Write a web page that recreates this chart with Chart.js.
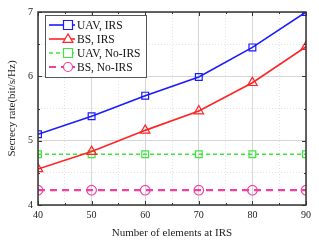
<!DOCTYPE html>
<html>
<head>
<meta charset="utf-8">
<script src="https://cdn.jsdelivr.net/npm/chart.js@4/dist/chart.umd.min.js"></script>
<style>
  html, body { margin: 0; padding: 0; background: #fff; }
  #wrap { width: 319px; height: 245px; }
</style>
</head>
<body>
<div id="wrap"><canvas id="c" width="319" height="245"></canvas></div>
<script>
// ---------- Data ----------
const elements = [40, 50, 60, 70, 80, 90];
const uavIrs = [5.1, 5.38, 5.7, 5.99, 6.45, 7.0];
const bsIrs = [4.56, 4.83, 5.16, 5.46, 5.9, 6.46];
const uavNoIrs = [4.79, 4.79, 4.79, 4.79, 4.79, 4.79];
const bsNoIrs = [4.23, 4.23, 4.23, 4.23, 4.23, 4.23];

const FONT = "'Liberation Serif', 'DejaVu Serif', serif";

function pts(ys) {
  return elements.map((x, i) => ({ x: x, y: ys[i] }));
}

// ---------- Plugins ----------
// frame box + inward tick marks
const framePlugin = {
  id: "frame",
  afterDraw(chart) {
    const { ctx, chartArea: a, scales } = chart;
    ctx.save();
    ctx.strokeStyle = "#333";
    ctx.lineWidth = 1;
    scales.x.ticks.forEach(t => {
      const px = Math.round(scales.x.getPixelForValue(t.value)) + 0.5;
      const len = t.value % 10 === 0 ? 4 : 2;
      ctx.beginPath();
      ctx.moveTo(px, a.bottom); ctx.lineTo(px, a.bottom - len);
      ctx.moveTo(px, a.top); ctx.lineTo(px, a.top + len);
      ctx.stroke();
    });
    scales.y.ticks.forEach(t => {
      const py = Math.round(scales.y.getPixelForValue(t.value)) + 0.5;
      const len = Number.isInteger(t.value) ? 4 : 2;
      ctx.beginPath();
      ctx.moveTo(a.left, py); ctx.lineTo(a.left + len, py);
      ctx.moveTo(a.right, py); ctx.lineTo(a.right - len, py);
      ctx.stroke();
    });
    ctx.lineWidth = 1.5;
    ctx.strokeRect(a.left, a.top, a.right - a.left, a.bottom - a.top);
    ctx.restore();
  }
};

function drawMarker(ctx, style, x, y, r) {
  ctx.beginPath();
  if (style === "rect") {
    ctx.rect(x - r, y - r, 2 * r, 2 * r);
  } else if (style === "triangle") {
    ctx.moveTo(x, y - r * 1.15);
    ctx.lineTo(x + r * 1.1, y + r * 0.75);
    ctx.lineTo(x - r * 1.1, y + r * 0.75);
    ctx.closePath();
  } else {
    ctx.arc(x, y, r, 0, Math.PI * 2);
  }
  ctx.fillStyle = "#fff";
  ctx.fill();
  ctx.stroke();
}

// legend inside the plot, top-left, with a box
const legendPlugin = {
  id: "boxLegend",
  afterDraw(chart) {
    const { ctx, chartArea: a } = chart;
    const x0 = a.left + 7, y0 = a.top + 3;
    const w = 101, rowH = 14;
    const sets = chart.data.datasets;
    ctx.save();
    ctx.fillStyle = "#fff";
    ctx.fillRect(x0, y0, w, rowH * sets.length + 6);
    ctx.strokeStyle = "#555";
    ctx.lineWidth = 1;
    ctx.strokeRect(x0 + 0.5, y0 + 0.5, w, rowH * sets.length + 6);
    sets.forEach((ds, i) => {
      const cy = y0 + 10 + i * rowH;
      ctx.strokeStyle = ds.borderColor;
      ctx.lineWidth = ds.borderWidth;
      ctx.setLineDash(ds.borderDash || []);
      ctx.beginPath();
      ctx.moveTo(x0 + 4, cy);
      ctx.lineTo(x0 + 30, cy);
      ctx.stroke();
      ctx.setLineDash([]);
      ctx.lineWidth = 1.2;
      drawMarker(ctx, ds.pointStyle, x0 + 23, cy, 4.5);
      ctx.fillStyle = "#111";
      ctx.font = "11.5px " + FONT;
      ctx.textBaseline = "middle";
      ctx.fillText(ds.label, x0 + 32, cy + 0.5);
    });
    ctx.restore();
  }
};

// ---------- Chart ----------
function makeSet(label, ys, color, style, width, dash) {
  return {
    label: label,
    data: pts(ys),
    borderColor: color,
    backgroundColor: "#fff",
    borderWidth: width,
    borderDash: dash,
    pointStyle: style,
    pointRadius: style === "triangle" ? 5.5 : 4.8,
    pointBorderWidth: 1.2,
    pointBorderColor: color,
    pointBackgroundColor: "rgba(255,255,255,0)",
    tension: 0
  };
}

new Chart(document.getElementById("c"), {
  type: "line",
  data: {
    datasets: [
      makeSet("UAV, IRS", uavIrs, "#1a1aff", "rect", 1.6, []),
      makeSet("BS, IRS", bsIrs, "#ff2424", "triangle", 1.6, []),
      makeSet("UAV, No-IRS", uavNoIrs, "#3de63d", "rect", 1.4, [4, 3]),
      makeSet("BS, No-IRS", bsNoIrs, "#f2409f", "circle", 2.2, [7, 5])
    ]
  },
  options: {
    responsive: false,
    animation: false,
    layout: { padding: { top: 12, right: 13, left: 0, bottom: 0 } },
    plugins: {
      legend: { display: false },
      tooltip: { enabled: false }
    },
    scales: {
      x: {
        type: "linear",
        min: 40,
        max: 90,
        afterFit: s => { s.height = 40; },
        ticks: {
          stepSize: 5,
          padding: 4,
          color: "#222",
          font: { family: FONT, size: 10 },
          callback: v => (v % 10 === 0 ? v : "")
        },
        grid: {
          drawTicks: false,
          color: c => (c.tick && c.tick.value % 10 === 0 ? "#d6d6d6" : "#e2e2e2")
        },
        border: {
          display: false,
          dash: c => (c.tick && c.tick.value % 10 === 0 ? [] : [1, 2])
        },
        title: {
          display: true,
          text: "Number of elements at IRS",
          color: "#222",
          font: { family: FONT, size: 11 },
          padding: { top: 0, bottom: 5 }
        }
      },
      y: {
        min: 4,
        max: 7,
        afterFit: s => { s.width = 38; },
        ticks: {
          stepSize: 0.5,
          padding: 5,
          color: "#222",
          font: { family: FONT, size: 10 },
          callback: v => (Number.isInteger(v) ? v : "")
        },
        grid: {
          drawTicks: false,
          color: c => (c.tick && Number.isInteger(c.tick.value) ? "#d6d6d6" : "#e2e2e2")
        },
        border: {
          display: false,
          dash: c => (c.tick && Number.isInteger(c.tick.value) ? [] : [1, 2])
        },
        title: {
          display: true,
          text: "Secrecy rate(bit/s/Hz)",
          color: "#222",
          font: { family: FONT, size: 11 },
          padding: { top: 6, bottom: 0 }
        }
      }
    }
  },
  plugins: [framePlugin, legendPlugin]
});
</script>
</body>
</html>
